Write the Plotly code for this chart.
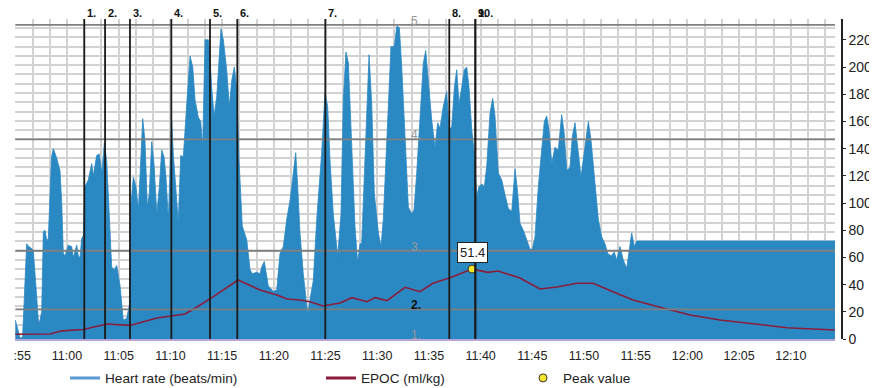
import pandas as pd
import plotly.graph_objects as go

# ---------------- data ----------------
session_start = "2014-05-10 10:55:00"

# elapsed minutes since 10:55:00 and heart rate (beats/min)
hr_minutes = [
    0.00, 0.26, 0.45, 0.70, 0.84, 0.99, 1.10, 1.28, 1.52, 1.74,
    1.91, 2.07, 2.24, 2.39, 2.55, 2.71, 2.87, 3.04, 3.19, 3.36,
    3.50, 3.68, 4.00, 4.32, 4.49, 4.64, 4.81, 5.13, 5.45, 5.61,
    5.94, 6.09, 6.26, 6.42, 6.58, 6.74, 7.06, 7.39, 7.54, 7.87,
    8.12, 8.36, 8.61, 8.84, 9.16, 9.32, 9.55, 9.81, 10.13, 10.44,
    10.77, 11.03, 11.16, 11.41, 11.67, 11.90, 12.16, 12.32, 12.54, 12.77,
    12.96, 13.19, 13.41, 13.68, 13.93, 14.16, 14.38, 14.57, 14.80, 14.89,
    15.13, 15.28, 15.51, 15.76, 16.00, 16.25, 16.58, 16.90, 17.16, 17.38,
    17.70, 17.93, 18.12, 18.35, 18.67, 18.83, 18.99, 19.22, 19.48, 19.70,
    19.89, 20.12, 20.44, 20.70, 20.93, 21.18, 21.41, 21.63, 21.95, 22.38,
    22.70, 22.92, 23.35, 23.67, 23.83, 24.08, 24.31, 24.47, 24.95, 25.28,
    25.60, 25.92, 26.25, 26.57, 26.89, 27.12, 27.31, 27.53, 27.85, 28.28,
    28.50, 28.82, 29.15, 29.63, 29.95, 30.21, 30.43, 30.75, 31.18, 31.50,
    31.72, 31.98, 32.21, 32.53, 32.85, 33.11, 33.34, 33.50, 33.75, 33.98,
    34.21, 34.47, 34.72, 35.11, 35.37, 35.59, 35.82, 36.07, 36.33, 36.65,
    36.89, 37.14, 37.37, 37.69, 38.01, 38.34, 38.56, 38.82, 39.14, 39.46,
    39.69, 39.94, 40.27, 40.59, 40.85, 41.07, 41.39, 41.72, 41.94, 42.21,
    42.46, 42.69, 42.91, 43.17, 43.42, 43.66, 43.88, 44.14, 44.39, 44.62,
    44.84, 45.11, 45.36, 45.59, 45.91, 46.17, 46.39, 46.71, 47.04, 47.36,
    47.68, 48.01, 48.33, 48.59, 48.81, 49.13, 49.46, 49.78, 50.00, 50.26,
    50.58, 50.91, 51.16, 51.39, 51.61, 51.88, 52.19, 52.51, 52.84, 53.09,
    53.33, 53.64, 53.87, 54.13, 54.39, 54.71, 54.93, 55.16, 55.42, 55.68,
    55.90, 56.13, 56.38, 56.71, 57.03, 57.29, 57.61, 57.93, 58.16, 58.48,
    58.80, 59.13, 59.35, 59.61, 59.86, 60.10, 79.27,
]
hr_bpm = [
    14, 6, 1, 1, 30, 62, 70, 68, 67, 65,
    50, 31, 12, 14, 20, 79, 80, 72, 74, 110,
    134, 140, 133, 124, 100, 63, 61, 69, 68, 60,
    69, 61, 60, 74, 76, 112, 117, 129, 120, 135,
    136, 122, 144, 131, 83, 53, 51, 54, 39, 14,
    15, 25, 97, 119, 112, 95, 136, 162, 146, 97,
    107, 145, 129, 92, 112, 139, 134, 119, 88, 105,
    160, 136, 112, 86, 135, 134, 173, 208, 200, 176,
    163, 160, 141, 220, 220, 207, 185, 164, 178, 206,
    228, 220, 198, 171, 190, 200, 185, 132, 83, 73,
    51, 48, 49, 48, 53, 57, 48, 39, 35, 36,
    63, 68, 88, 102, 122, 137, 112, 78, 48, 18,
    29, 43, 88, 137, 181, 171, 132, 92, 61, 92,
    176, 211, 203, 137, 83, 56, 70, 70, 124, 161,
    209, 173, 107, 78, 68, 88, 124, 173, 215, 215,
    230, 229, 200, 149, 97, 92, 95, 122, 161, 203,
    212, 190, 161, 141, 159, 155, 171, 182, 154, 156,
    185, 198, 173, 185, 198, 200, 185, 154, 137, 105,
    112, 114, 112, 127, 166, 177, 164, 122, 117, 106,
    96, 94, 125, 107, 85, 80, 73, 66, 66, 75,
    112, 139, 160, 164, 154, 129, 141, 139, 165, 151,
    124, 126, 149, 159, 141, 119, 132, 146, 160, 146,
    129, 107, 88, 75, 70, 63, 61, 64, 58, 68,
    58, 52, 63, 78, 68, 72, 72,
]

# EPOC (ml/kg)
epoc_minutes = [
    0.00, 3.36, 4.52, 6.55, 8.87, 11.09, 13.70, 14.96, 16.41, 17.57,
    19.12, 21.54, 23.66, 25.31, 26.28, 27.53, 28.50, 29.76, 31.40, 32.56,
    34.01, 34.79, 35.95, 37.69, 39.14, 40.39, 42.04, 44.17, 45.71, 46.68,
    48.81, 50.74, 52.39, 54.32, 55.87, 57.80, 59.74, 62.64, 65.25, 68.15,
    71.34, 74.63, 77.14, 79.27,
]
epoc_values = [
    3.5, 3.7, 6.0, 7.0, 11.0, 10.0, 15.4, 17.0, 18.4, 23.5,
    31.0, 43.4, 36.0, 32.4, 29.4, 28.7, 27.4, 24.3, 26.5, 30.4,
    27.4, 30.4, 28.2, 38.0, 34.8, 41.0, 45.0, 51.4, 49.0, 50.0,
    44.8, 36.8, 38.2, 41.0, 41.0, 34.8, 28.7, 22.8, 17.6, 14.0,
    11.0, 8.3, 7.4, 6.6,
]

peak_minute = 44.17
peak_value = 51.4

# lap / event markers
event_labels = ["1.", "2.", "3.", "4.", "5.", "6.", "7.", "8.", "9.", "10."]
event_minutes = [6.67, 8.68, 11.09, 15.09, 18.83, 21.47, 29.98, 41.97, 44.49, 44.49]

# training-effect levels (on the EPOC scale)
level_labels = ["1.", "2.", "3.", "4.", "5."]
level_values = [0, 21.8, 64.9, 146.8, 231]
level_achieved = "2."
level_label_minute = 38.75

x_tick_minutes = [0, 5, 10, 15, 20, 25, 30, 35, 40, 45, 50, 55, 60, 65, 70, 75]
x_tick_text = ["\u00a0\u00a0\u00a0\u00a0:55", "11:00", "11:05", "11:10", "11:15", "11:20",
               "11:25", "11:30", "11:35", "11:40", "11:45", "11:50", "11:55",
               "12:00", "12:05", "12:10"]
y_ticks = [0, 20, 40, 60, 80, 100, 120, 140, 160, 180, 200, 220]

# ---------------- build ----------------
t0 = pd.Timestamp(session_start)


def at(m):
    return t0 + pd.to_timedelta(m, unit="min")


hr_x = [at(m) for m in hr_minutes]
epoc_x = [at(m) for m in epoc_minutes]
x_end = at(hr_minutes[-1])

FONT = "Liberation Sans, Arial, Helvetica, sans-serif"
BLUE_FILL = "#2a88c3"
BLUE_LEG = "#5b9bd5"
EPOC_COL = "#8c1d3a"
GRID = "#d2d2d2"

fig = go.Figure()

fig.add_trace(go.Scatter(
    x=hr_x, y=hr_bpm, mode="lines", fill="tozeroy",
    fillcolor=BLUE_FILL, line=dict(color=BLUE_FILL, width=0.8),
    showlegend=False, hoverinfo="skip"))

fig.add_trace(go.Scatter(
    x=epoc_x, y=epoc_values, mode="lines",
    line=dict(color=EPOC_COL, width=1.6),
    showlegend=False))

fig.add_trace(go.Scatter(
    x=[at(peak_minute)], y=[peak_value], mode="markers",
    marker=dict(color="#f7e62a", size=8, line=dict(color="#333", width=1)),
    name="Peak value", legend="legend3"))

# legend entries
fig.add_trace(go.Scatter(x=[None], y=[None], mode="lines",
                         line=dict(color=BLUE_LEG, width=3),
                         name="Heart rate (beats/min)", legend="legend"))
fig.add_trace(go.Scatter(x=[None], y=[None], mode="lines",
                         line=dict(color=EPOC_COL, width=3),
                         name="EPOC (ml/kg)", legend="legend2"))

shapes = []
for lv in level_values[1:]:
    shapes.append(dict(type="line", xref="x", yref="y", x0=t0, x1=x_end,
                       y0=lv, y1=lv, line=dict(color="#7f7f7f", width=1.8),
                       layer="above"))
for m in event_minutes:
    shapes.append(dict(type="line", xref="x", yref="paper", x0=at(m), x1=at(m),
                       y0=0, y1=1.0, line=dict(color="#1a1a1a", width=1.8),
                       layer="above"))

annotations = []
for lab, m in zip(event_labels, event_minutes):
    annotations.append(dict(x=at(m), y=1, xref="x", yref="paper",
                            text="<b>%s</b>" % lab, showarrow=False,
                            xanchor="left", yanchor="middle", xshift=1, yshift=6,
                            font=dict(size=11, color="#111", family=FONT)))
for lab, lv in zip(level_labels, level_values):
    achieved = lab == level_achieved
    annotations.append(dict(x=at(level_label_minute), y=lv, xref="x", yref="y",
                            text=("<b>%s</b>" % lab) if achieved else lab,
                            showarrow=False, xanchor="center", yanchor="middle",
                            yshift=4,
                            font=dict(size=12, color="#111" if achieved else "#9a9a9a",
                                      family=FONT)))
annotations.append(dict(x=at(peak_minute), y=peak_value, xref="x", yref="y",
                        text="%.1f" % peak_value, showarrow=False,
                        xanchor="center", yanchor="middle", yshift=17,
                        bgcolor="white", bordercolor="#222", borderwidth=1,
                        borderpad=2, font=dict(size=13, color="#222", family=FONT)))

leg_common = dict(orientation="h", yanchor="middle", y=-0.122, xanchor="left",
                  bgcolor="rgba(0,0,0,0)", font=dict(size=13.6, color="#222", family=FONT))

# The page body adds an 8px margin, so the figure is sized to fill the rest.
fig.update_layout(
    width=869, height=380, autosize=False,
    margin=dict(l=7, r=35, t=11, b=49, autoexpand=False),
    paper_bgcolor="white", plot_bgcolor="white",
    font=dict(family=FONT, color="#222"),
    shapes=shapes, annotations=annotations,
    legend=dict(x=0.0605, **leg_common),
    legend2=dict(x=0.370, **leg_common),
    legend3=dict(x=0.6143, **leg_common),
    xaxis=dict(
        type="date", domain=[0, 0.9915], range=[at(-0.03), x_end],
        tickmode="array", tickvals=[at(m) for m in x_tick_minutes], ticktext=x_tick_text,
        ticks="", showgrid=True, gridcolor=GRID, gridwidth=1.5,
        minor=dict(tickmode="linear", tick0=at(5), dtick=100000,
                   showgrid=True, gridcolor=GRID, gridwidth=1.5, ticks=""),
        showline=True, linecolor="#b3a6d6", linewidth=2,
        zeroline=False, tickfont=dict(size=12.5, color="#222", family=FONT),
        ticklabelstandoff=4, ticklabeloverflow="allow", automargin=False,
    ),
    yaxis=dict(
        range=[0, 235.3], side="right", anchor="free", position=1,
        tickmode="array", tickvals=y_ticks,
        showgrid=False, zeroline=False,
        showline=True, linecolor="#222", linewidth=1.5,
        ticks="outside", ticklen=3, tickcolor="#222",
        tickfont=dict(size=14, color="#222", family=FONT),
        ticklabeloverflow="allow",
        minor=dict(tickmode="linear", tick0=64.9, dtick=6.825,
                   showgrid=True, gridcolor=GRID, gridwidth=1.5, ticks=""),
        automargin=False,
    ),
)

fig.write_html("out.html")
